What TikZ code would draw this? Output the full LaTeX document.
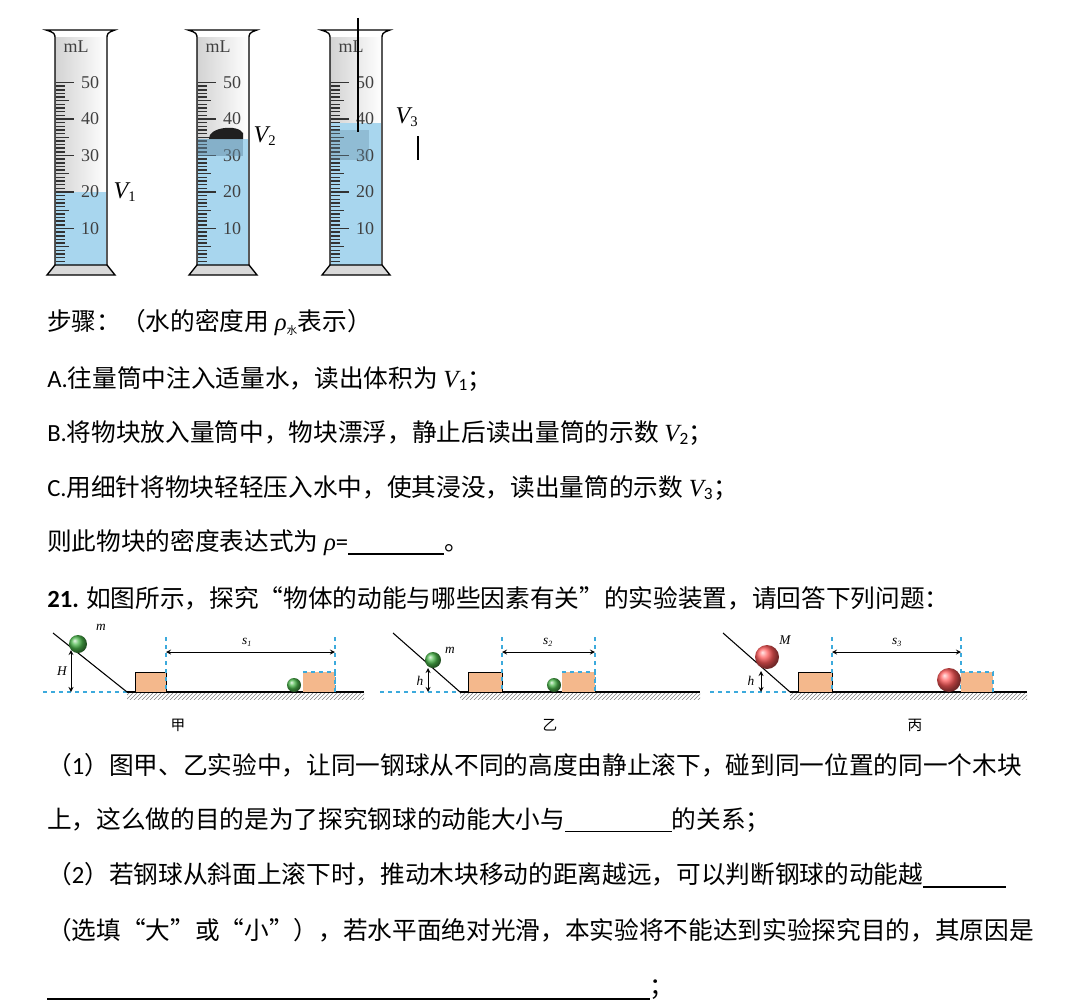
\documentclass[tikz,border=0pt]{standalone}
\usepackage{fontspec}
\setmainfont{Noto Sans CJK SC}
\newfontfamily\calf{Carlito}
\newfontfamily\tms{Liberation Serif}
\usetikzlibrary{patterns}
\definecolor{watercol}{RGB}{168,214,238}
\definecolor{sunkcol}{RGB}{100,140,165}
\definecolor{woodcol}{RGB}{244,184,140}
\definecolor{dashcol}{RGB}{60,170,220}

% one measuring cylinder, #1 = x shift, #2 = water top
\newcommand\cylinder[2]{%
\begin{scope}[shift={(#1,0)}]
  \shade[left color=gray!35,right color=white] (55,38) rectangle (107,265);
  \fill[watercol] (56,#2) rectangle (106,265);
  \foreach \i in {1,...,50}{
    \pgfmathsetmacro\yy{265-3.65*\i}
    \pgfmathsetmacro\len{ifthenelse(mod(\i,10)==0,18,ifthenelse(mod(\i,5)==0,13,9))}
    \draw[line width=1.1pt,black!80] (56,\yy) -- ++(\len,0);
  }
  \foreach \n in {1,...,5}
    \node[num] at (90,{265-36.5*\n}) {\n0};
  \node[num] at (76,47) {mL};
  \draw[line width=1pt] (55,265) -- (55,40) .. controls (55,33) .. (46,30)
    -- (115,30) .. controls (107,33) .. (107,40) -- (107,265);
  \filldraw[line width=1pt,fill=gray!30] (55,265) -- (47,275) -- (115,275)
    -- (107,265) -- cycle;
\end{scope}}

\begin{document}
\begin{tikzpicture}[
    x=0.75pt, y=-0.75pt,
    num/.style={font=\tms\fontsize{13.5}{13.5}\selectfont, text=black!75, inner sep=0pt},
    vlab/.style={font=\tms\itshape\fontsize{18}{18}\selectfont, inner sep=0pt},
    line/.style={anchor=west, inner sep=0pt, font=\fontsize{18.5}{22}\selectfont},
    ground/.style={line width=1.2pt},
    hatch/.style={pattern=north east lines, pattern color=gray},
    guide/.style={dashcol, dashed, line width=0.8pt},
    wood/.style={fill=woodcol, draw=black, line width=0.7pt},
    smallball/.style={ball color=green!60!black!70},
    bigball/.style={ball color=red!65},
    dim/.style={<->, >=stealth, line width=0.7pt},
    flab/.style={font=\tms\itshape\fontsize{10}{10}\selectfont, inner sep=1pt},
    figcap/.style={font=\fontsize{11}{11}\selectfont}
]
\useasboundingbox (0,0) rectangle (1080,1006);

% cylinders
\cylinder{0}{192}
\cylinder{142}{139}
\cylinder{275}{123}
\node[vlab] (v1) at (125,192) {V\textsubscript{\fontsize{11}{11}\selectfont\upshape 1}};
\fill[black!88] (209,139) .. controls (208,127) and (238,124) .. (243,133)
  -- (243,139) -- cycle;
\fill[sunkcol, opacity=0.5] (198,139) rectangle (243,156);
\node[vlab] (v2) at (265,136) {V\textsubscript{\fontsize{11}{11}\selectfont\upshape 2}};
\fill[sunkcol, opacity=0.35] (331,130) rectangle (369,160);
\draw[line width=1pt] (358,18) -- (358,132);
\node[vlab] (v3) at (407,117) {V\textsubscript{\fontsize{11}{11}\selectfont\upshape 3}};
\draw[line width=1pt] (418,136) -- (418,160);

% text lines
\node[line] (step) at (47,323) {步骤：（水的密度用 {\tms\itshape ρ}\textsubscript{\fontsize{8}{8}\selectfont 水}表示）};
\node[line] (la) at (47,379) {{\calf A.}往量筒中注入适量水，读出体积为 {\tms\itshape V}{\calf\textsubscript{1}}；};
\node[line] (lb) at (47,433) {{\calf B.}将物块放入量筒中，物块漂浮，静止后读出量筒的示数 {\tms\itshape V}{\calf\textsubscript{2}}；};
\node[line] (lc) at (47,488) {{\calf C.}用细针将物块轻轻压入水中，使其浸没，读出量筒的示数 {\tms\itshape V}{\calf\textsubscript{3}}；};
\node[line] (ld) at (47,543) {则此物块的密度表达式为 {\tms\itshape ρ}{\calf =}\rule[-3pt]{72pt}{1.2pt}。};
\node[line] (q21) at (47,598) {{\calf\bfseries 21.} 如图所示，探究“物体的动能与哪些因素有关”的实验装置，请回答下列问题：};

% figure jia
\draw[guide] (43,692) -- (127,692);
\draw[line width=0.8pt] (53,633) -- (127,692);
\fill[hatch] (127,692) rectangle (364,699);
\draw[ground] (127,692) -- (364,692);
\shade[smallball] (78,644) circle (9);
\node[flab] (m1) at (101,627) {m};
\draw[dim] (71,650) -- (71,692);
\node[flab] (H1) at (62,671) {H};
\node[wood] (blk1) at (150.5,682) [minimum width=31*0.75pt, minimum height=20*0.75pt, inner sep=0pt] {};
\draw[guide] (166,637) -- (166,692) (335,637) -- (335,692);
\fill[woodcol] (303,672) rectangle (335,692);
\draw[guide] (303,672) -- (335,672) -- (335,692);
\shade[smallball] (294,685) circle (7);
\draw[dim] (166,652) -- (335,652);
\node[flab] (s1) at (247,642) {s\textsubscript{\fontsize{6}{6}\selectfont 1}};
\node[figcap] (jia) at (178,725) {甲};

% figure yi
\draw[guide] (380,692) -- (460,692);
\draw[line width=0.8pt] (393,633) -- (460,692);
\fill[hatch] (460,692) rectangle (700,699);
\draw[ground] (460,692) -- (700,692);
\shade[smallball] (433,660) circle (8);
\node[flab] (m2) at (450,650) {m};
\draw[dim] (428,668) -- (428,692);
\node[flab] (h2) at (420,681) {h};
\node[wood] (blk2) at (485,682) [minimum width=34*0.75pt, minimum height=20*0.75pt, inner sep=0pt] {};
\draw[guide] (502,637) -- (502,692) (595,637) -- (595,692);
\fill[woodcol] (562,672) rectangle (595,692);
\draw[guide] (562,672) -- (595,672) -- (595,692);
\shade[smallball] (554,685) circle (7);
\draw[dim] (502,652) -- (595,652);
\node[flab] (s2) at (548,642) {s\textsubscript{\fontsize{6}{6}\selectfont 2}};
\node[figcap] (yi) at (550,725) {乙};

% figure bing
\draw[guide] (710,692) -- (790,692);
\draw[line width=0.8pt] (723,633) -- (790,692);
\fill[hatch] (790,692) rectangle (1027,699);
\draw[ground] (790,692) -- (1027,692);
\shade[bigball] (767,657) circle (12);
\node[flab] (M3) at (785,640) {M};
\draw[dim] (761,671) -- (761,692);
\node[flab] (h3) at (751,681) {h};
\node[wood] (blk3) at (815,682) [minimum width=34*0.75pt, minimum height=20*0.75pt, inner sep=0pt] {};
\draw[guide] (832,637) -- (832,692) (961,637) -- (961,692);
\fill[woodcol] (961,672) rectangle (993,692);
\draw[guide] (961,672) -- (993,672) -- (993,692);
\shade[bigball] (949,680) circle (12);
\draw[dim] (832,652) -- (961,652);
\node[flab] (s3) at (897,642) {s\textsubscript{\fontsize{6}{6}\selectfont 3}};
\node[figcap] (bing) at (915,725) {丙};

% questions
\node[line] (q1) at (47,765) {（{\calf 1}）图甲、乙实验中，让同一钢球从不同的高度由静止滚下，碰到同一位置的同一个木块};
\node[line] (q1b) at (47,820) {上，这么做的目的是为了探究钢球的动能大小与\rule[-3pt]{80pt}{1.2pt}的关系；};
\node[line] (q2) at (47,875) {（{\calf 2}）若钢球从斜面上滚下时，推动木块移动的距离越远，可以判断钢球的动能越\rule[-3pt]{62pt}{1.2pt}};
\node[line] (q2b) at (47,930) {（选填“大”或“小”），若水平面绝对光滑，本实验将不能达到实验探究目的，其原因是};
\node[line] (q2c) at (47,990) {\rule[-3pt]{452pt}{1.2pt}；};
\end{tikzpicture}
\end{document}
